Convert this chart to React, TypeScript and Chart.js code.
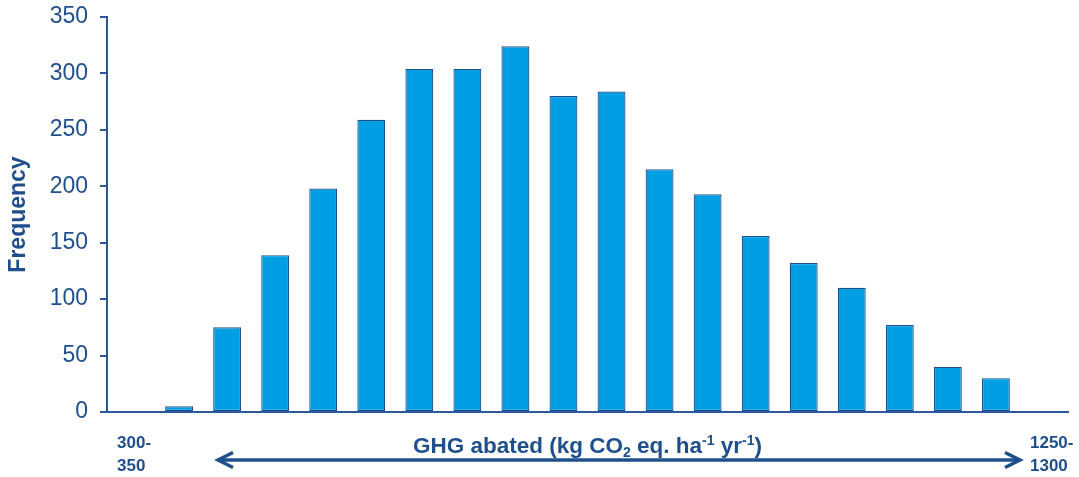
import React, { useEffect, useRef } from "react";
import { Chart, registerables } from "chart.js";

Chart.register(...registerables);

const categories: string[] = [
  "300-350", "350-400", "400-450", "450-500", "500-550",
  "550-600", "600-650", "650-700", "700-750", "750-800",
  "800-850", "850-900", "900-950", "950-1000", "1000-1050",
  "1050-1100", "1100-1150", "1150-1200", "1200-1250", "1250-1300",
];

const frequencies: number[] = [
  0, 5, 75, 139, 198, 259, 304, 304, 324, 280,
  284, 215, 193, 156, 132, 110, 77, 40, 30, 0,
];

const yTicks: number[] = [0, 50, 100, 150, 200, 250, 300, 350];

const yAxisTitle = "Frequency";
const xAxisTitleParts: { text: string; kind: "normal" | "sub" | "sup" }[] = [
  { text: "GHG abated (kg CO", kind: "normal" },
  { text: "2", kind: "sub" },
  { text: " eq. ha", kind: "normal" },
  { text: "-1", kind: "sup" },
  { text: " yr", kind: "normal" },
  { text: "-1", kind: "sup" },
  { text: ")", kind: "normal" },
];

const TEXT = "#1F4E8C";
const AXIS = "#2B5A9C";
const BAR = "#009FE3";
const BAR_BORDER = "#1F4E8C";
const FONT = "'Liberation Sans', Arial, sans-serif";

const xTitleArrowPlugin = {
  id: "xTitleArrow",
  afterDraw(chart: any) {
    const { ctx, chartArea } = chart;
    const cx = (chartArea.left + chartArea.right) / 2;
    const baseY = chartArea.bottom + 41;
    ctx.save();
    ctx.fillStyle = TEXT;
    ctx.textBaseline = "alphabetic";
    ctx.textAlign = "left";
    const big = `bold 22.5px ${FONT}`;
    const small = `bold 14px ${FONT}`;
    let total = 0;
    const widths = xAxisTitleParts.map((p) => {
      ctx.font = p.kind === "normal" ? big : small;
      const w = ctx.measureText(p.text).width;
      total += w;
      return w;
    });
    let x = cx - total / 2;
    xAxisTitleParts.forEach((p, i) => {
      ctx.font = p.kind === "normal" ? big : small;
      const dy = p.kind === "sub" ? 4 : p.kind === "sup" ? -8 : 0;
      ctx.fillText(p.text, x, baseY + dy);
      x += widths[i];
    });

    // double-headed arrow
    const ay = chartArea.bottom + 48;
    const x1 = chartArea.left + 111;
    const x2 = chartArea.right - 48;
    ctx.strokeStyle = TEXT;
    ctx.lineWidth = 3.5;
    ctx.lineCap = "butt";
    ctx.beginPath();
    ctx.moveTo(x1 + 2, ay);
    ctx.lineTo(x2 - 2, ay);
    ctx.stroke();
    ctx.lineJoin = "miter";
    ctx.beginPath();
    ctx.moveTo(x1 + 15, ay - 7.5);
    ctx.lineTo(x1, ay);
    ctx.lineTo(x1 + 15, ay + 7.5);
    ctx.stroke();
    ctx.beginPath();
    ctx.moveTo(x2 - 15, ay - 7.5);
    ctx.lineTo(x2, ay);
    ctx.lineTo(x2 - 15, ay + 7.5);
    ctx.stroke();
    ctx.restore();
  },
};

export default function App() {
  const canvasRef = useRef<HTMLCanvasElement | null>(null);

  useEffect(() => {
    if (!canvasRef.current) return;
    const chart = new Chart(canvasRef.current, {
      type: "bar",
      data: {
        labels: categories,
        datasets: [
          {
            label: yAxisTitle,
            data: frequencies,
            backgroundColor: BAR,
            borderColor: BAR_BORDER,
            borderWidth: 1.2,
            borderSkipped: false,
            categoryPercentage: 1,
            barPercentage: 0.58,
          },
        ],
      },
      options: {
        responsive: true,
        maintainAspectRatio: false,
        animation: false,
        layout: { padding: { top: 17, right: 11, left: 0, bottom: 0 } },
        plugins: {
          legend: { display: false },
          tooltip: { enabled: false },
        },
        scales: {
          x: {
            offset: true,
            grid: { display: true, drawOnChartArea: false, drawTicks: false, color: AXIS },
            border: { display: true, color: AXIS, width: 2 },
            ticks: {
              autoSkip: false,
              maxRotation: 0,
              minRotation: 0,
              align: "start",
              labelOffset: -14,
              padding: 20,
              color: TEXT,
              font: { family: FONT, size: 17, weight: "bold", lineHeight: 1.35 },
              callback: (_v: any, i: number) => {
                if (i === 0 || i === categories.length - 1) {
                  const [a, b] = categories[i].split("-");
                  return [a + "-", b];
                }
                return "";
              },
            },
            afterFit: (scale: any) => {
              scale.height = 65;
              scale.paddingLeft = 0;
              scale.paddingRight = 0;
            },
          },
          y: {
            min: 0,
            max: 350,
            afterBuildTicks: (scale: any) => {
              scale.ticks = yTicks.map((v) => ({ value: v }));
            },
            grid: { display: true, drawOnChartArea: false, drawTicks: true, tickLength: 7, color: AXIS, lineWidth: 2 },
            border: { display: true, color: AXIS, width: 2 },
            ticks: {
              padding: 12,
              color: TEXT,
              font: { family: FONT, size: 23 },
            },
            title: {
              display: true,
              text: yAxisTitle,
              color: TEXT,
              font: { family: FONT, size: 23, weight: "bold" },
              padding: { top: 5, bottom: 0 },
            },
            afterFit: (scale: any) => {
              scale.width = 107;
              scale.paddingTop = 0;
              scale.paddingBottom = 0;
            },
          },
        },
      },
      plugins: [xTitleArrowPlugin],
    });
    return () => chart.destroy();
  }, []);

  return (
    <div style={{ position: "fixed", left: 0, top: 0, width: 1079, height: 477, background: "#fff" }}>
      <canvas ref={canvasRef} />
    </div>
  );
}
